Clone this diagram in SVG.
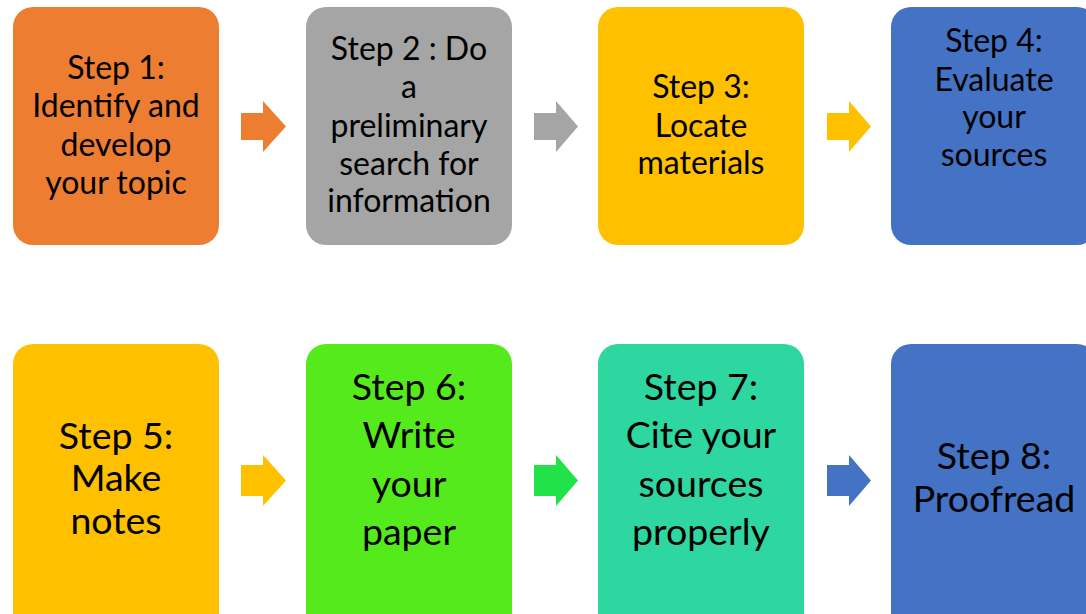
<svg xmlns="http://www.w3.org/2000/svg" width="1086" height="614" viewBox="0 0 1086 614">
<style>
text{font-family:Lato,"Open Sans","Liberation Sans",sans-serif;fill:#000;text-anchor:middle}
.t{font-size:32px}
.m{font-size:37.5px}
.l{font-size:37.5px}
</style>
<rect width="1086" height="614" fill="#fff"/>
<g id="node1"><rect x="13" y="7" width="206" height="238" rx="20" fill="#ED7D31"/>
<text class="t" x="116" y="79">Step 1:</text><text class="t" x="116" y="117">Identify and</text><text class="t" x="116" y="156">develop</text><text class="t" x="116" y="194">your topic</text></g>
<g id="node2"><rect x="306" y="7" width="206" height="238" rx="20" fill="#A5A5A5"/>
<text class="t" x="409" y="60">Step 2 : Do</text><text class="t" x="409" y="98">a</text><text class="t" x="409" y="137">preliminary</text><text class="t" x="409" y="175">search for</text><text class="t" x="409" y="212">information</text></g>
<g id="node3"><rect x="598" y="7" width="206" height="238" rx="20" fill="#FFC000"/>
<text class="t" x="701" y="98">Step 3:</text><text class="t" x="701" y="137">Locate</text><text class="t" x="701" y="174">materials</text></g>
<g id="node4"><rect x="891" y="7" width="206" height="238" rx="20" fill="#4472C4"/>
<text class="t" x="994" y="52">Step 4:</text><text class="t" x="994" y="91">Evaluate</text><text class="t" x="994" y="128">your</text><text class="t" x="994" y="166">sources</text></g>
<g id="node5"><rect x="13" y="344" width="206" height="290" rx="20" fill="#FFC000"/>
<text class="m" x="116" y="449">Step 5:</text><text class="m" x="116" y="491">Make</text><text class="m" x="116" y="534">notes</text></g>
<g id="node6"><rect x="306" y="344" width="206" height="290" rx="20" fill="#55EA1B"/>
<text class="l" x="409" y="400">Step 6:</text><text class="l" x="409" y="448">Write</text><text class="l" x="409" y="497">your</text><text class="l" x="409" y="545">paper</text></g>
<g id="node7"><rect x="598" y="344" width="206" height="290" rx="20" fill="#2ED6A0"/>
<text class="l" x="701" y="400">Step 7:</text><text class="l" x="701" y="448">Cite your</text><text class="l" x="701" y="497">sources</text><text class="l" x="701" y="545">properly</text></g>
<g id="node8"><rect x="891" y="344" width="206" height="290" rx="20" fill="#4472C4"/>
<text class="m" x="994" y="469">Step 8:</text><text class="m" x="994" y="512">Proofread</text></g>
<g id="connectors">
<path d="M241 113H263V101L286 126.5L263 152V140H241Z" fill="#ED7D31"/>
<path d="M534 113H556V101L578 126.5L556 152V140H534Z" fill="#A5A5A5"/>
<path d="M827 113H849V101L871 126.5L849 152V140H827Z" fill="#FFC000"/>
<path d="M241 465H263V455L286 480.5L263 506V496H241Z" fill="#FFC000"/>
<path d="M534 465H556V455L578 480.5L556 506V496H534Z" fill="#22E249"/>
<path d="M827 465H849V455L871 480.5L849 506V496H827Z" fill="#4472C4"/>
</g>
</svg>
